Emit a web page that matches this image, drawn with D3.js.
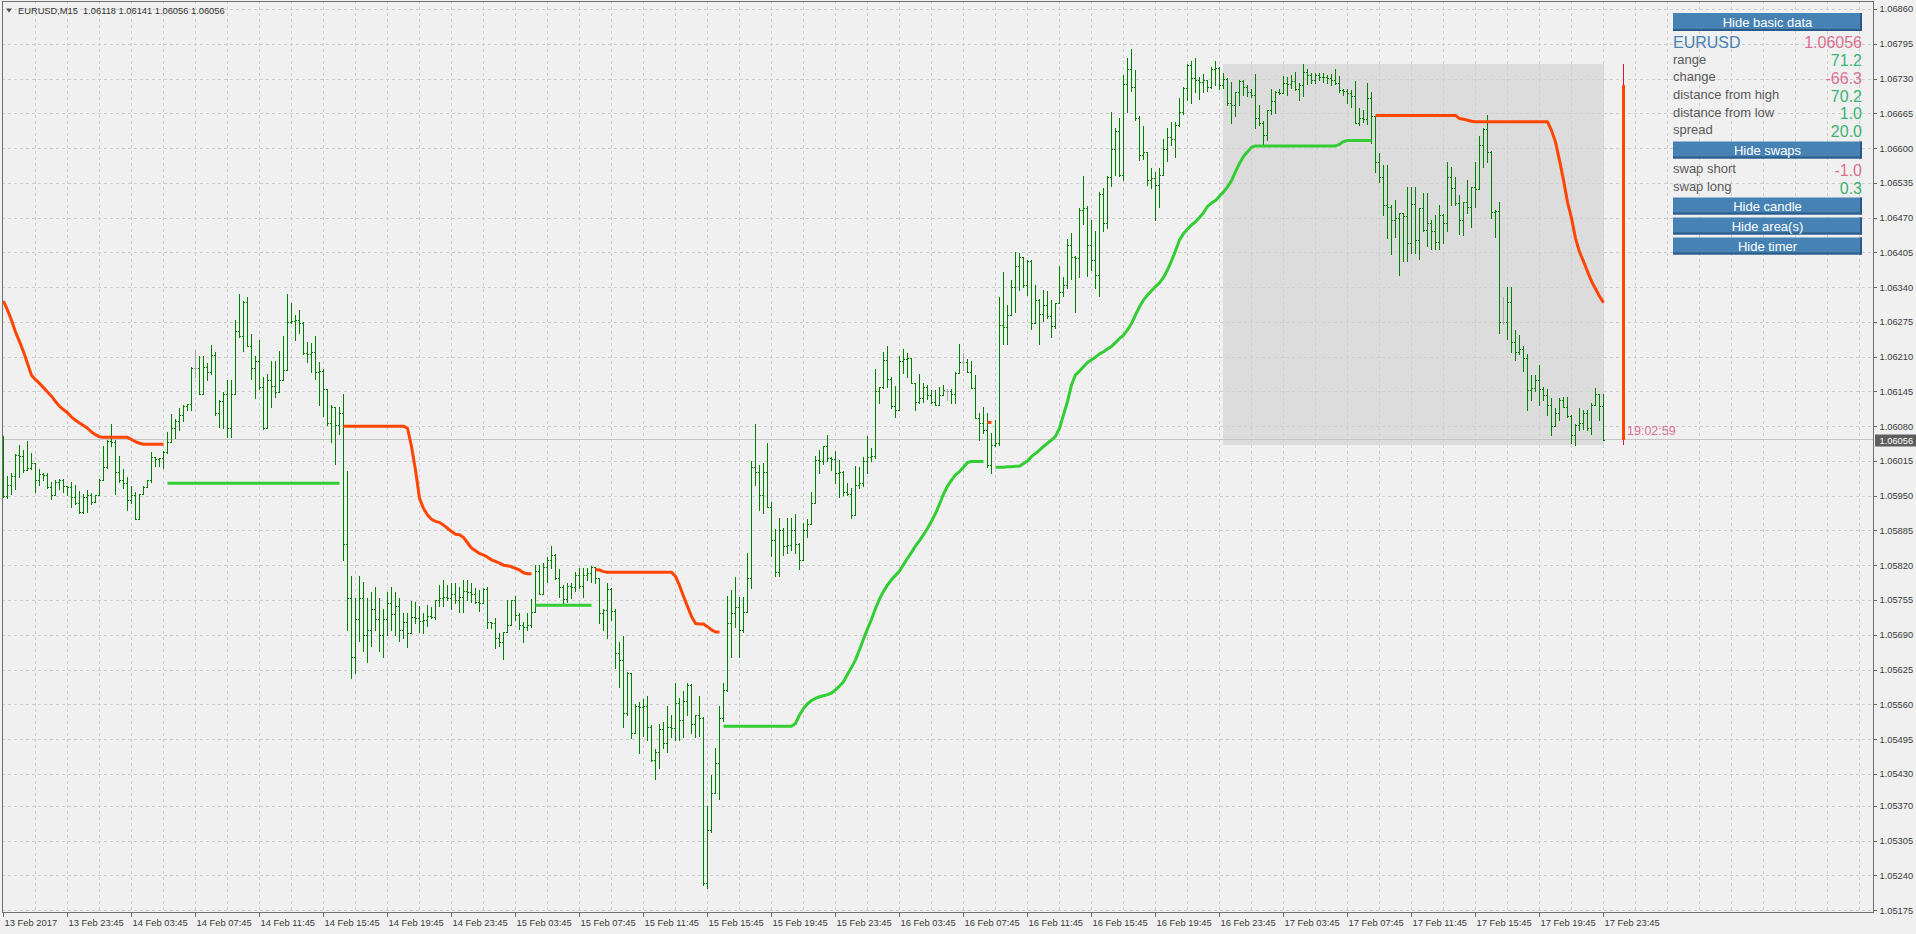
<!DOCTYPE html>
<html><head><meta charset="utf-8"><title>EURUSD,M15</title>
<script src="https://cdn.jsdelivr.net/npm/d3@7/dist/d3.min.js"></script>
<style>html,body{margin:0;padding:0;background:#f0f0f0;overflow:hidden}svg{display:block}</style>
</head><body><svg id="chart" width="1916" height="934"></svg>
<script>
// ================= DATA =================
const symbol = "EURUSD";
const timeframe = "M15";
const currentBar = [1.06118, 1.06141, 1.06056, 1.06056]; // O H L C of the live bar
const currentPrice = 1.06056;

const timeLabels = ["13 Feb 2017","13 Feb 23:45","14 Feb 03:45","14 Feb 07:45","14 Feb 11:45","14 Feb 15:45","14 Feb 19:45","14 Feb 23:45","15 Feb 03:45","15 Feb 07:45","15 Feb 11:45","15 Feb 15:45","15 Feb 19:45","15 Feb 23:45","16 Feb 03:45","16 Feb 07:45","16 Feb 11:45","16 Feb 15:45","16 Feb 19:45","16 Feb 23:45","17 Feb 03:45","17 Feb 07:45","17 Feb 11:45","17 Feb 15:45","17 Feb 19:45","17 Feb 23:45"];
const timeLabelBars = [0,16,32,48,64,80,96,112,128,144,160,176,192,208,224,240,256,272,288,304,320,336,352,368,384,400];

const yTickLabels = ["1.06860","1.06795","1.06730","1.06665","1.06600","1.06535","1.06470","1.06405","1.06340","1.06275","1.06210","1.06145","1.06080","1.06015","1.05950","1.05885","1.05820","1.05755","1.05690","1.05625","1.05560","1.05495","1.05430","1.05370","1.05305","1.05240","1.05175"];

const open = [
1.05990,1.05950,1.05971,1.05987,1.06027,1.06026,1.05999,1.06002,1.06012,1.05980,
1.05991,1.05990,1.05968,1.05952,1.05977,1.05980,1.05969,1.05968,1.05949,1.05938,
1.05921,1.05949,1.05952,1.05939,1.05952,1.05981,1.06005,1.06054,1.06052,1.05996,
1.05980,1.05974,1.05943,1.05952,1.05908,1.05955,1.05968,1.05980,1.06024,1.06020,
1.06022,1.06033,1.06052,1.06077,1.06091,1.06102,1.06118,1.06122,1.06189,1.06189,
1.06142,1.06191,1.06183,1.06214,1.06106,1.06128,1.06142,1.06077,1.06142,1.06259,
1.06249,1.06313,1.06231,1.06189,1.06203,1.06155,1.06077,1.06167,1.06156,1.06145,
1.06167,1.06186,1.06276,1.06278,1.06280,1.06274,1.06217,1.06216,1.06220,1.06183,
1.06184,1.06151,1.06086,1.06116,1.06083,1.06105,1.05860,1.05760,1.05650,1.05720,
1.05760,1.05690,1.05700,1.05740,1.05720,1.05690,1.05720,1.05750,1.05730,1.05745,
1.05700,1.05714,1.05694,1.05725,1.05722,1.05717,1.05719,1.05726,1.05725,1.05755,
1.05759,1.05762,1.05759,1.05768,1.05756,1.05762,1.05772,1.05770,1.05768,1.05753,
1.05751,1.05776,1.05715,1.05712,1.05684,1.05678,1.05697,1.05709,1.05755,1.05728,
1.05709,1.05706,1.05710,1.05734,1.05811,1.05768,1.05818,1.05830,1.05840,1.05797,
1.05780,1.05757,1.05782,1.05780,1.05802,1.05782,1.05803,1.05806,1.05817,1.05797,
1.05731,1.05737,1.05776,1.05736,1.05656,1.05644,1.05544,1.05619,1.05507,1.05558,
1.05555,1.05557,1.05518,1.05457,1.05472,1.05514,1.05488,1.05519,1.05516,1.05563,
1.05532,1.05568,1.05597,1.05525,1.05541,1.05535,1.05226,1.05326,1.05396,1.05451,
1.05535,1.05588,1.05712,1.05732,1.05742,1.05700,1.05734,1.05797,1.06004,1.05996,
1.05952,1.05996,1.05929,1.05869,1.05809,1.05887,1.05856,1.05859,1.05887,1.05860,
1.05831,1.05887,1.05898,1.05937,1.06018,1.06015,1.06043,1.06021,1.06019,1.05993,
1.05996,1.05958,1.05955,1.05915,1.05971,1.05974,1.06016,1.06024,1.06025,1.06147,
1.06154,1.06205,1.06170,1.06119,1.06111,1.06203,1.06206,1.06208,1.06161,1.06127,
1.06133,1.06155,1.06139,1.06127,1.06120,1.06139,1.06147,1.06147,1.06141,1.06181,
1.06200,1.06200,1.06183,1.06152,1.06096,1.06086,1.06074,1.06008,1.06046,1.06050,
1.06270,1.06266,1.06289,1.06342,1.06380,1.06397,1.06345,1.06390,1.06274,1.06317,
1.06291,1.06308,1.06287,1.06268,1.06311,1.06331,1.06345,1.06420,1.06398,1.06395,
1.06485,1.06488,1.06420,1.06392,1.06364,1.06515,1.06460,1.06546,1.06599,1.06632,
1.06551,1.06721,1.06748,1.06716,1.06658,1.06588,1.06594,1.06541,1.06545,1.06532,
1.06551,1.06600,1.06621,1.06618,1.06644,1.06669,1.06714,1.06756,1.06731,1.06728,
1.06725,1.06729,1.06716,1.06748,1.06750,1.06719,1.06730,1.06685,1.06681,1.06705,
1.06727,1.06716,1.06705,1.06700,1.06658,1.06647,1.06625,1.06672,1.06688,1.06706,
1.06704,1.06722,1.06721,1.06727,1.06711,1.06719,1.06744,1.06738,1.06728,1.06738,
1.06734,1.06733,1.06731,1.06728,1.06722,1.06710,1.06708,1.06703,1.06698,1.06648,
1.06658,1.06655,1.06694,1.06660,1.06575,1.06546,1.06494,1.06491,1.06466,1.06470,
1.06479,1.06473,1.06423,1.06496,1.06429,1.06488,1.06448,1.06460,1.06445,1.06426,
1.06476,1.06460,1.06547,1.06526,1.06498,1.06466,1.06501,1.06491,1.06529,1.06524,
1.06607,1.06636,1.06594,1.06482,1.06484,1.06276,1.06276,1.06314,1.06239,1.06220,
1.06226,1.06208,1.06149,1.06153,1.06167,1.06150,1.06139,1.06120,1.06081,1.06105,
1.06130,1.06117,1.06100,1.06064,1.06083,1.06086,1.06105,1.06077,1.06120,1.06141,
1.06118];

const high = [
1.06063,1.05988,1.05994,1.06029,1.06046,1.06036,1.06053,1.06030,1.06012,1.06001,
1.05994,1.05994,1.05977,1.05980,1.05982,1.05982,1.05969,1.05976,1.05971,1.05960,
1.05955,1.05961,1.05956,1.05953,1.05983,1.06044,1.06056,1.06085,1.06055,1.06025,
1.06000,1.05986,1.05969,1.05958,1.05955,1.05969,1.05981,1.06032,1.06024,1.06022,
1.06035,1.06070,1.06103,1.06095,1.06114,1.06120,1.06123,1.06191,1.06224,1.06213,
1.06212,1.06199,1.06232,1.06220,1.06130,1.06145,1.06167,1.06167,1.06280,1.06328,
1.06315,1.06323,1.06253,1.06212,1.06242,1.06173,1.06178,1.06203,1.06203,1.06222,
1.06249,1.06328,1.06312,1.06289,1.06298,1.06276,1.06239,1.06237,1.06249,1.06201,
1.06187,1.06151,1.06120,1.06116,1.06117,1.06142,1.05997,1.05800,1.05760,1.05800,
1.05790,1.05760,1.05770,1.05780,1.05760,1.05740,1.05770,1.05780,1.05770,1.05760,
1.05731,1.05731,1.05754,1.05753,1.05744,1.05731,1.05747,1.05742,1.05756,1.05784,
1.05793,1.05784,1.05787,1.05787,1.05781,1.05793,1.05793,1.05788,1.05778,1.05775,
1.05778,1.05780,1.05715,1.05722,1.05694,1.05697,1.05756,1.05756,1.05764,1.05731,
1.05715,1.05731,1.05757,1.05821,1.05821,1.05825,1.05837,1.05857,1.05842,1.05813,
1.05784,1.05787,1.05788,1.05809,1.05815,1.05815,1.05815,1.05820,1.05818,1.05797,
1.05740,1.05788,1.05778,1.05740,1.05678,1.05689,1.05622,1.05619,1.05562,1.05566,
1.05570,1.05577,1.05522,1.05477,1.05525,1.05527,1.05557,1.05541,1.05601,1.05572,
1.05585,1.05600,1.05599,1.05541,1.05577,1.05538,1.05370,1.05429,1.05479,1.05558,
1.05600,1.05764,1.05775,1.05798,1.05761,1.05762,1.05843,1.06015,1.06085,1.06008,
1.06013,1.06050,1.05940,1.05888,1.05909,1.05890,1.05909,1.05909,1.05917,1.05863,
1.05899,1.05907,1.05958,1.06025,1.06036,1.06044,1.06064,1.06024,1.06035,1.06018,
1.05998,1.05974,1.05965,1.06006,1.06004,1.06024,1.06062,1.06041,1.06187,1.06155,
1.06220,1.06230,1.06173,1.06156,1.06212,1.06225,1.06217,1.06208,1.06161,1.06178,
1.06161,1.06158,1.06149,1.06149,1.06155,1.06158,1.06150,1.06150,1.06183,1.06235,
1.06217,1.06206,1.06202,1.06177,1.06106,1.06116,1.06105,1.06068,1.06092,1.06323,
1.06370,1.06308,1.06355,1.06407,1.06404,1.06397,1.06392,1.06392,1.06345,1.06318,
1.06336,1.06334,1.06317,1.06311,1.06380,1.06359,1.06430,1.06443,1.06399,1.06488,
1.06549,1.06493,1.06466,1.06445,1.06518,1.06526,1.06549,1.06669,1.06638,1.06658,
1.06738,1.06769,1.06786,1.06746,1.06661,1.06642,1.06594,1.06563,1.06557,1.06563,
1.06617,1.06638,1.06650,1.06650,1.06694,1.06716,1.06758,1.06764,1.06769,1.06733,
1.06739,1.06729,1.06753,1.06764,1.06752,1.06741,1.06731,1.06725,1.06706,1.06728,
1.06728,1.06719,1.06711,1.06739,1.06681,1.06652,1.06673,1.06711,1.06708,1.06711,
1.06736,1.06733,1.06738,1.06744,1.06723,1.06758,1.06748,1.06741,1.06741,1.06741,
1.06741,1.06738,1.06739,1.06748,1.06736,1.06711,1.06711,1.06710,1.06727,1.06675,
1.06672,1.06723,1.06706,1.06660,1.06592,1.06569,1.06569,1.06494,1.06503,1.06479,
1.06479,1.06529,1.06529,1.06528,1.06488,1.06516,1.06516,1.06466,1.06476,1.06494,
1.06478,1.06574,1.06565,1.06547,1.06513,1.06501,1.06542,1.06529,1.06574,1.06623,
1.06638,1.06663,1.06596,1.06485,1.06501,1.06322,1.06342,1.06342,1.06260,1.06251,
1.06231,1.06216,1.06177,1.06177,1.06195,1.06155,1.06150,1.06133,1.06114,1.06133,
1.06135,1.06135,1.06102,1.06085,1.06114,1.06112,1.06112,1.06124,1.06152,1.06142,
1.06141];

const low = [
1.05948,1.05946,1.05955,1.05964,1.05986,1.05996,1.05999,1.06000,1.05958,1.05971,
1.05981,1.05966,1.05944,1.05952,1.05964,1.05958,1.05952,1.05930,1.05936,1.05918,
1.05918,1.05921,1.05936,1.05939,1.05952,1.05980,1.06002,1.06044,1.05955,1.05977,
1.05966,1.05925,1.05938,1.05907,1.05908,1.05955,1.05968,1.05977,1.06006,1.06006,
1.06002,1.06031,1.06052,1.06058,1.06074,1.06090,1.06111,1.06111,1.06173,1.06141,
1.06142,1.06167,1.06179,1.06102,1.06080,1.06077,1.06061,1.06060,1.06142,1.06248,
1.06222,1.06231,1.06170,1.06133,1.06151,1.06075,1.06077,1.06117,1.06136,1.06145,
1.06167,1.06186,1.06274,1.06242,1.06256,1.06216,1.06201,1.06183,1.06170,1.06120,
1.06100,1.06083,1.06052,1.06011,1.06067,1.05830,1.05700,1.05610,1.05620,1.05680,
1.05660,1.05640,1.05670,1.05700,1.05660,1.05650,1.05690,1.05700,1.05690,1.05680,
1.05684,1.05668,1.05694,1.05712,1.05696,1.05694,1.05707,1.05722,1.05720,1.05744,
1.05744,1.05756,1.05740,1.05750,1.05733,1.05733,1.05756,1.05753,1.05750,1.05736,
1.05750,1.05703,1.05703,1.05666,1.05669,1.05645,1.05697,1.05709,1.05719,1.05701,
1.05678,1.05700,1.05706,1.05734,1.05767,1.05767,1.05790,1.05815,1.05795,1.05762,
1.05749,1.05753,1.05759,1.05772,1.05778,1.05762,1.05794,1.05790,1.05788,1.05712,
1.05700,1.05684,1.05719,1.05628,1.05594,1.05519,1.05541,1.05497,1.05507,1.05469,
1.05502,1.05494,1.05454,1.05421,1.05441,1.05479,1.05471,1.05500,1.05494,1.05494,
1.05500,1.05541,1.05507,1.05500,1.05502,1.05223,1.05217,1.05323,1.05396,1.05383,
1.05529,1.05585,1.05649,1.05706,1.05650,1.05697,1.05734,1.05778,1.05971,1.05924,
1.05918,1.05929,1.05838,1.05800,1.05801,1.05840,1.05843,1.05850,1.05843,1.05813,
1.05831,1.05874,1.05898,1.05937,1.05994,1.06011,1.06015,1.05999,1.05974,1.05949,
1.05952,1.05952,1.05909,1.05915,1.05965,1.05969,1.05994,1.06015,1.06021,1.06124,
1.06152,1.06155,1.06114,1.06099,1.06111,1.06181,1.06172,1.06161,1.06112,1.06124,
1.06127,1.06131,1.06124,1.06120,1.06120,1.06139,1.06129,1.06125,1.06125,1.06181,
1.06186,1.06183,1.06152,1.06096,1.06056,1.06068,1.06005,1.05993,1.06043,1.06046,
1.06235,1.06235,1.06289,1.06295,1.06336,1.06342,1.06326,1.06262,1.06274,1.06235,
1.06278,1.06284,1.06247,1.06264,1.06311,1.06324,1.06339,1.06357,1.06295,1.06360,
1.06459,1.06362,1.06373,1.06339,1.06324,1.06445,1.06451,1.06530,1.06551,1.06549,
1.06542,1.06669,1.06708,1.06653,1.06579,1.06580,1.06532,1.06526,1.06466,1.06490,
1.06551,1.06577,1.06607,1.06584,1.06642,1.06665,1.06690,1.06686,1.06706,1.06692,
1.06706,1.06708,1.06714,1.06719,1.06711,1.06713,1.06681,1.06647,1.06660,1.06681,
1.06700,1.06698,1.06696,1.06638,1.06644,1.06607,1.06616,1.06665,1.06667,1.06702,
1.06704,1.06700,1.06713,1.06710,1.06690,1.06698,1.06721,1.06722,1.06723,1.06728,
1.06725,1.06723,1.06719,1.06721,1.06705,1.06700,1.06685,1.06678,1.06647,1.06644,
1.06650,1.06646,1.06610,1.06557,1.06538,1.06476,1.06432,1.06403,1.06435,1.06364,
1.06390,1.06390,1.06404,1.06404,1.06393,1.06445,1.06417,1.06412,1.06412,1.06412,
1.06423,1.06446,1.06494,1.06494,1.06441,1.06438,1.06479,1.06454,1.06491,1.06524,
1.06566,1.06575,1.06471,1.06435,1.06256,1.06272,1.06243,1.06220,1.06205,1.06216,
1.06185,1.06111,1.06130,1.06147,1.06120,1.06129,1.06102,1.06064,1.06081,1.06092,
1.06117,1.06099,1.06049,1.06046,1.06074,1.06075,1.06074,1.06066,1.06120,1.06092,
1.06056];

const close = [
1.05950,1.05971,1.05987,1.06027,1.06026,1.05999,1.06002,1.06012,1.05980,1.05991,
1.05990,1.05968,1.05952,1.05977,1.05980,1.05969,1.05968,1.05949,1.05938,1.05921,
1.05949,1.05952,1.05939,1.05952,1.05981,1.06005,1.06054,1.06052,1.05996,1.05980,
1.05974,1.05943,1.05952,1.05908,1.05955,1.05968,1.05980,1.06024,1.06020,1.06022,
1.06033,1.06052,1.06077,1.06091,1.06102,1.06118,1.06122,1.06189,1.06189,1.06142,
1.06191,1.06183,1.06214,1.06106,1.06128,1.06142,1.06077,1.06142,1.06259,1.06249,
1.06313,1.06231,1.06189,1.06203,1.06155,1.06077,1.06167,1.06156,1.06145,1.06167,
1.06186,1.06276,1.06278,1.06280,1.06274,1.06217,1.06216,1.06220,1.06183,1.06184,
1.06151,1.06086,1.06116,1.06083,1.06105,1.05860,1.05760,1.05650,1.05720,1.05760,
1.05690,1.05700,1.05740,1.05720,1.05690,1.05720,1.05750,1.05730,1.05745,1.05700,
1.05714,1.05694,1.05725,1.05722,1.05717,1.05719,1.05726,1.05725,1.05755,1.05759,
1.05762,1.05759,1.05768,1.05756,1.05762,1.05772,1.05770,1.05768,1.05753,1.05751,
1.05776,1.05715,1.05712,1.05684,1.05678,1.05697,1.05709,1.05755,1.05728,1.05709,
1.05706,1.05710,1.05734,1.05811,1.05768,1.05818,1.05830,1.05840,1.05797,1.05780,
1.05757,1.05782,1.05780,1.05802,1.05782,1.05803,1.05806,1.05817,1.05797,1.05731,
1.05737,1.05776,1.05736,1.05656,1.05644,1.05544,1.05619,1.05507,1.05558,1.05555,
1.05557,1.05518,1.05457,1.05472,1.05514,1.05488,1.05519,1.05516,1.05563,1.05532,
1.05568,1.05597,1.05525,1.05541,1.05535,1.05226,1.05326,1.05396,1.05451,1.05535,
1.05588,1.05712,1.05732,1.05742,1.05700,1.05734,1.05797,1.06004,1.05996,1.05952,
1.05996,1.05929,1.05869,1.05809,1.05887,1.05856,1.05859,1.05887,1.05860,1.05831,
1.05887,1.05898,1.05937,1.06018,1.06015,1.06043,1.06021,1.06019,1.05993,1.05996,
1.05958,1.05955,1.05915,1.05971,1.05974,1.06016,1.06024,1.06025,1.06147,1.06154,
1.06205,1.06170,1.06119,1.06111,1.06203,1.06206,1.06208,1.06161,1.06127,1.06133,
1.06155,1.06139,1.06127,1.06120,1.06139,1.06149,1.06147,1.06141,1.06181,1.06200,
1.06200,1.06183,1.06152,1.06096,1.06086,1.06074,1.06008,1.06046,1.06050,1.06270,
1.06266,1.06289,1.06342,1.06380,1.06397,1.06345,1.06390,1.06274,1.06317,1.06291,
1.06308,1.06287,1.06268,1.06311,1.06331,1.06345,1.06420,1.06398,1.06395,1.06485,
1.06488,1.06420,1.06392,1.06364,1.06515,1.06460,1.06546,1.06599,1.06632,1.06551,
1.06721,1.06748,1.06716,1.06658,1.06588,1.06594,1.06541,1.06545,1.06532,1.06551,
1.06600,1.06621,1.06618,1.06644,1.06669,1.06714,1.06756,1.06731,1.06728,1.06725,
1.06729,1.06716,1.06748,1.06750,1.06719,1.06730,1.06685,1.06681,1.06705,1.06727,
1.06716,1.06705,1.06700,1.06658,1.06647,1.06625,1.06672,1.06688,1.06706,1.06704,
1.06722,1.06721,1.06727,1.06711,1.06719,1.06744,1.06738,1.06728,1.06738,1.06734,
1.06733,1.06731,1.06728,1.06722,1.06710,1.06708,1.06703,1.06698,1.06648,1.06658,
1.06655,1.06694,1.06660,1.06575,1.06546,1.06494,1.06491,1.06466,1.06470,1.06479,
1.06473,1.06423,1.06496,1.06429,1.06488,1.06448,1.06460,1.06445,1.06426,1.06476,
1.06460,1.06547,1.06526,1.06498,1.06466,1.06501,1.06491,1.06529,1.06524,1.06607,
1.06636,1.06594,1.06482,1.06484,1.06276,1.06276,1.06314,1.06239,1.06220,1.06226,
1.06208,1.06149,1.06153,1.06167,1.06150,1.06139,1.06120,1.06081,1.06105,1.06130,
1.06117,1.06100,1.06064,1.06083,1.06086,1.06105,1.06077,1.06120,1.06141,1.06118,
1.06056];

// trailing lines: [first bar index, values...]
const redSegments = [
 {start: 0, values: [1.06315,1.06298,1.06279,1.06257,1.06239,1.06220,1.06198,1.06176,1.06168,1.06161,1.06153,1.06145,1.06137,1.06127,1.06118,1.06112,1.06106,1.06098,1.06092,1.06087,1.06082,1.06077,1.06070,1.06065,1.06061,1.06060,1.06060,1.06060,1.06060,1.06060,1.06060,1.06060,1.06056,1.06052,1.06049,1.06047,1.06047,1.06047,1.06047,1.06047,1.06047]},
 {start: 85, values: [1.06081,1.06081,1.06081,1.06081,1.06081,1.06081,1.06081,1.06081,1.06081,1.06081,1.06081,1.06081,1.06081,1.06081,1.06081,1.06081,1.06077,1.06043,1.05999,1.05946,1.05927,1.05915,1.05907,1.05903,1.05901,1.05896,1.05890,1.05884,1.05879,1.05878,1.05873,1.05863,1.05853,1.05848,1.05843,1.05840,1.05836,1.05831,1.05828,1.05825,1.05821,1.05820,1.05818,1.05815,1.05812,1.05807,1.05805,1.05805]},
 {start: 148, values: [1.05813,1.05812,1.05809,1.05808,1.05808,1.05808,1.05808,1.05808,1.05808,1.05808,1.05808,1.05808,1.05808,1.05808,1.05808,1.05808,1.05808,1.05808,1.05808,1.05808,1.05800,1.05783,1.05763,1.05744,1.05725,1.05712,1.05711,1.05711,1.05706,1.05700,1.05696,1.05696]},
 {start: 246, values: [1.06088,1.06088]},
 {start: 343, values: [1.06662,1.06662,1.06662,1.06662,1.06662,1.06662,1.06662,1.06662,1.06662,1.06662,1.06662,1.06662,1.06662,1.06662,1.06662,1.06662,1.06662,1.06662,1.06662,1.06662,1.06662,1.06656,1.06655,1.06653,1.06651,1.06650,1.06650,1.06650,1.06650,1.06650,1.06650,1.06650,1.06650,1.06650,1.06650,1.06650,1.06650,1.06650,1.06650,1.06650,1.06650,1.06650,1.06650,1.06650,1.06634,1.06612,1.06578,1.06541,1.06500,1.06470,1.06432,1.06407,1.06389,1.06370,1.06352,1.06338,1.06324,1.06312]}
];
const greenSegments = [
 {start: 41, values: [1.05974,1.05974,1.05974,1.05974,1.05974,1.05974,1.05974,1.05974,1.05974,1.05974,1.05974,1.05974,1.05974,1.05974,1.05974,1.05974,1.05974,1.05974,1.05974,1.05974,1.05974,1.05974,1.05974,1.05974,1.05974,1.05974,1.05974,1.05974,1.05974,1.05974,1.05974,1.05974,1.05974,1.05974,1.05974,1.05974,1.05974,1.05974,1.05974,1.05974,1.05974,1.05974,1.05974,1.05974]},
 {start: 133, values: [1.05746,1.05746,1.05746,1.05746,1.05746,1.05746,1.05746,1.05746,1.05746,1.05746,1.05746,1.05746,1.05746,1.05746,1.05746]},
 {start: 180, values: [1.05520,1.05520,1.05520,1.05520,1.05520,1.05520,1.05520,1.05520,1.05520,1.05520,1.05520,1.05520,1.05520,1.05520,1.05520,1.05520,1.05520,1.05520,1.05525,1.05541,1.05553,1.05562,1.05568,1.05572,1.05575,1.05577,1.05579,1.05582,1.05588,1.05595,1.05603,1.05617,1.05630,1.05644,1.05663,1.05683,1.05702,1.05720,1.05740,1.05758,1.05772,1.05784,1.05794,1.05802,1.05810,1.05822,1.05834,1.05845,1.05857,1.05867,1.05878,1.05890,1.05903,1.05918,1.05935,1.05954,1.05969,1.05980,1.05990,1.05996,1.06004,1.06013,1.06015,1.06015,1.06015,1.06015]},
 {start: 248, values: [1.06004,1.06004,1.06004,1.06005,1.06005,1.06006,1.06006,1.06011,1.06016,1.06024,1.06030,1.06036,1.06043,1.06049,1.06055,1.06062,1.06077,1.06102,1.06127,1.06158,1.06177,1.06184,1.06192,1.06200,1.06205,1.06210,1.06216,1.06220,1.06225,1.06230,1.06237,1.06245,1.06251,1.06261,1.06273,1.06289,1.06304,1.06317,1.06326,1.06334,1.06342,1.06349,1.06359,1.06373,1.06390,1.06409,1.06429,1.06441,1.06449,1.06457,1.06463,1.06471,1.06480,1.06492,1.06498,1.06503,1.06511,1.06519,1.06528,1.06540,1.06557,1.06572,1.06585,1.06594,1.06602,1.06605,1.06605,1.06605,1.06605,1.06605,1.06605,1.06605,1.06605,1.06605,1.06605,1.06605,1.06605,1.06605,1.06605,1.06605,1.06605,1.06605,1.06605,1.06605,1.06605,1.06605,1.06608,1.06613,1.06615,1.06615,1.06615,1.06615,1.06615,1.06615,1.06615]}
];

const areaBars = [305, 400];                 // today's high/low box
const dayOHLC = [1.06719, 1.06758, 1.06046, 1.06056];
const dayCandleBar = 405;
const timerText = "19:02:59";

const buttonLabels = ["Hide basic data", "Hide swaps", "Hide candle", "Hide area(s)", "Hide timer"];
const basicLabels = ["range", "change", "distance from high", "distance from low", "spread"];
const basicValues = ["71.2", "-66.3", "70.2", "1.0", "20.0"];
const swapLabels = ["swap short", "swap long"];
const swapValues = ["-1.0", "0.3"];

// ================= DRAW =================
const W = 1916, H = 934;
const plotL = 2, plotR = 1873, plotT = 1, plotB = 913;
const FONT = "'Liberation Sans', Arial, sans-serif";
const svg = d3.select("#chart").attr("font-family", FONT);

const x = d3.scaleLinear().domain([0, 400]).range([3.5, 1603.5]);
const y = d3.scaleLinear().domain([1.05175, 1.06860]).range([910.7, 9.5]);
const snap = v => Math.round(v - 0.5) + 0.5;

svg.append("rect").attr("width", W).attr("height", H).attr("fill", "#f0f0f0");

// area box
svg.append("rect")
  .attr("x", x(areaBars[0]) - 0.5).attr("y", Math.round(y(dayOHLC[1])))
  .attr("width", x(areaBars[1]) - x(areaBars[0]) + 1)
  .attr("height", Math.round(y(dayOHLC[2])) - Math.round(y(dayOHLC[1])))
  .attr("fill", "#dcdcdc");

// grid
const grid = svg.append("g").attr("shape-rendering", "crispEdges")
  .attr("stroke", "#cdcdcd").attr("stroke-dasharray", "3,3").attr("stroke-width", 1);
yTickLabels.forEach(t => {
  const yy = snap(y(+t));
  grid.append("line").attr("x1", plotL).attr("x2", plotR).attr("y1", yy).attr("y2", yy);
});
const vGridBars = d3.range(8, 470, 8).filter(i => x(i) < plotR - 2);
vGridBars.forEach(i => {
  grid.append("line").attr("x1", x(i)).attr("x2", x(i)).attr("y1", plotT).attr("y2", plotB);
});

// current price line
svg.append("line").attr("x1", plotL).attr("x2", plotR)
  .attr("y1", snap(y(currentPrice))).attr("y2", snap(y(currentPrice)))
  .attr("stroke", "#c4c4c4").attr("shape-rendering", "crispEdges");

// OHLC bars
let dGreen = "", dGray = "";
open.forEach((o, i) => {
  const xx = x(i);
  const yh = Math.round(y(high[i])), yl = Math.round(y(low[i]));
  const yo = Math.round(y(o)) + 0.5, yc = Math.round(y(close[i])) + 0.5;
  const d = `M${xx},${yh}V${yl + 1}M${xx - 1.5},${yo}h1M${xx + 0.5},${yc}h1`;
  if (o === close[i]) dGray += d; else dGreen += d;
});
svg.append("path").attr("d", dGreen).attr("stroke", "#008000").attr("stroke-width", 1).attr("fill", "none").attr("shape-rendering", "crispEdges");
svg.append("path").attr("d", dGray).attr("stroke", "#a8a8a8").attr("stroke-width", 1).attr("fill", "none").attr("shape-rendering", "crispEdges");

// trailing lines
function drawSegs(segs, color) {
  segs.forEach(s => {
    const line = d3.line().x((d, k) => x(s.start + k)).y(d => y(d));
    svg.append("path").attr("d", line(s.values)).attr("fill", "none")
      .attr("stroke", color).attr("stroke-width", 3).attr("stroke-linejoin", "round");
  });
}
drawSegs(greenSegments, "#32cd32");
drawSegs(redSegments, "#ff4500");

// day candle
const cx = x(dayCandleBar);
svg.append("line").attr("x1", cx).attr("x2", cx).attr("y1", Math.round(y(dayOHLC[1]))).attr("y2", Math.round(y(dayOHLC[2])))
  .attr("stroke", "#dc143c").attr("stroke-width", 1).attr("shape-rendering", "crispEdges");
svg.append("rect").attr("x", cx - 1.5).attr("y", Math.round(y(dayOHLC[0])))
  .attr("width", 3).attr("height", Math.round(y(dayOHLC[3])) - Math.round(y(dayOHLC[0])))
  .attr("fill", "#ff4500");
svg.append("text").attr("x", cx + 3.5).attr("y", Math.round(y(currentPrice)) - 5)
  .attr("font-size", 12.5).attr("fill", "#db7093").text(timerText);

// frame
svg.append("rect").attr("x", plotL + 0.5).attr("y", plotT + 0.5)
  .attr("width", plotR - plotL).attr("height", plotB - plotT - 1)
  .attr("fill", "none").attr("stroke", "#6e6e6e").attr("shape-rendering", "crispEdges");

// y axis
const yAxis = d3.axisRight(y).tickValues(yTickLabels.map(Number))
  .tickFormat((d, i) => yTickLabels[i]).tickSize(3).tickPadding(3).offset(0);
const gy = svg.append("g").attr("transform", `translate(${plotR + 0.5},0)`).call(yAxis);
gy.select(".domain").remove();
gy.selectAll("line").attr("stroke", "#6e6e6e").attr("shape-rendering", "crispEdges");
gy.selectAll("text").attr("font-size", 9.3).attr("fill", "#3a3a3a").attr("font-family", FONT);

// current price box
svg.append("rect").attr("x", 1875).attr("y", Math.round(y(currentPrice)) - 5.5).attr("width", 41).attr("height", 12).attr("fill", "#5e5e5e");
svg.append("text").attr("x", 1879.5).attr("y", Math.round(y(currentPrice)) + 4)
  .attr("font-size", 9.3).attr("fill", "#ffffff").text(currentPrice.toFixed(5));

// x axis
const xAxis = d3.axisBottom(x).tickValues(timeLabelBars)
  .tickFormat((d, i) => timeLabels[i]).tickSize(4).offset(0);
const gx = svg.append("g").attr("transform", `translate(0,${plotB - 0.5})`).call(xAxis);
gx.select(".domain").remove();
gx.selectAll("line").attr("stroke", "#6e6e6e").attr("shape-rendering", "crispEdges");
gx.selectAll("text").attr("text-anchor", "start").attr("x", 1).attr("y", 13).attr("dy", 0)
  .attr("font-size", 9.4).attr("fill", "#3a3a3a").attr("font-family", FONT);

// header
svg.append("path").attr("d", "M6,8.5L12,8.5L9,12.5Z").attr("fill", "#505050");
svg.append("text").attr("x", 18).attr("y", 14).attr("font-size", 9.3).attr("fill", "#333")
  .attr("xml:space", "preserve")
  .text(`${symbol},${timeframe}  ${currentBar.map(v => v.toFixed(5)).join(" ")}`);

// info panel
const pX = 1673, pW = 189, pR = pX + pW;
const panel = svg.append("g");
function button(label, top, h) {
  panel.append("rect").attr("x", pX).attr("y", top).attr("width", pW).attr("height", h).attr("fill", "#4682b4");
  panel.append("rect").attr("x", pX).attr("y", top + h - 2).attr("width", pW).attr("height", 2).attr("fill", "#2a5a87");
  panel.append("rect").attr("x", pR - 2).attr("y", top).attr("width", 2).attr("height", h).attr("fill", "#2a5a87");
  panel.append("text").attr("x", pX + pW / 2).attr("y", top + h / 2 + 4.6).attr("text-anchor", "middle")
    .attr("font-size", 13).attr("fill", "#ffffff").text(label);
}
const buttonTops = [13, 141.5, 197.5, 217.5, 237.5];
buttonLabels.forEach((b, i) => button(b, buttonTops[i], i === 0 ? 18 : 17));

panel.append("text").attr("x", pX).attr("y", 48).attr("font-size", 16).attr("fill", "#4682b4").text(symbol);
panel.append("text").attr("x", pR).attr("y", 48).attr("text-anchor", "end").attr("font-size", 16).attr("fill", "#db7093").text(currentPrice.toFixed(5));

const valColor = v => (+v < 0 ? "#db7093" : "#3cb371");
const basicBase = [63.5, 81, 99, 116.5, 134];
basicLabels.forEach((l, i) => {
  panel.append("text").attr("x", pX).attr("y", basicBase[i]).attr("font-size", 13).attr("fill", "#5a5a5a").text(l);
  panel.append("text").attr("x", pR).attr("y", basicBase[i] + 2.5).attr("text-anchor", "end").attr("font-size", 16)
    .attr("fill", valColor(basicValues[i])).text(basicValues[i]);
});
const swapBase = [173, 191];
swapLabels.forEach((l, i) => {
  panel.append("text").attr("x", pX).attr("y", swapBase[i]).attr("font-size", 13).attr("fill", "#5a5a5a").text(l);
  panel.append("text").attr("x", pR).attr("y", swapBase[i] + 2.5).attr("text-anchor", "end").attr("font-size", 16)
    .attr("fill", valColor(swapValues[i])).text(swapValues[i]);
});
</script></body></html>
